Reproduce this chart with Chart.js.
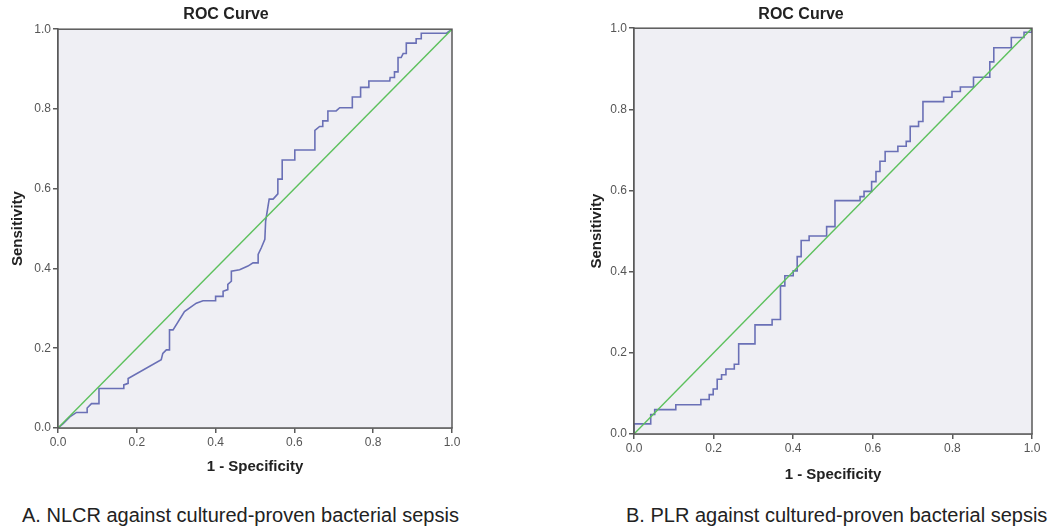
<!DOCTYPE html>
<html>
<head>
<meta charset="utf-8">
<script src="https://cdn.jsdelivr.net/npm/chart.js@4/dist/chart.umd.min.js"></script>
<style>
  html, body { margin: 0; padding: 0; background: #fff; }
  body { width: 1052px; height: 531px; position: relative; overflow: hidden; font-family: "Liberation Sans", Arial, sans-serif; }
  .panel { position: absolute; top: 0; height: 490px; }
  .caption { position: absolute; top: 504px; font-size: 20px; color: #222; white-space: nowrap; }
</style>
</head>
<body>
<div class="panel" style="left:0;width:470px"><canvas id="rocA"></canvas></div>
<div class="panel" style="left:570px;width:482px"><canvas id="rocB"></canvas></div>
<div class="caption" style="left:22px">A. NLCR against cultured-proven bacterial sepsis</div>
<div class="caption" style="left:626px">B. PLR against cultured-proven bacterial sepsis</div>
<script>
// NLCR curve
const nlcrFpr = [0, 0.013, 0.03, 0.047, 0.074, 0.074, 0.085, 0.104, 0.104, 0.167, 0.167, 0.178, 0.178, 0.262,
  0.266, 0.275, 0.283, 0.283, 0.292, 0.321, 0.351, 0.368, 0.4, 0.4, 0.419, 0.419, 0.431, 0.431, 0.44, 0.44,
  0.461, 0.482, 0.495, 0.508, 0.508, 0.516, 0.525, 0.527, 0.536, 0.546, 0.558, 0.558, 0.569, 0.569, 0.601,
  0.601, 0.652, 0.652, 0.664, 0.672, 0.672, 0.685, 0.685, 0.706, 0.715, 0.747, 0.747, 0.768, 0.768, 0.789,
  0.789, 0.842, 0.843, 0.854, 0.854, 0.863, 0.863, 0.871, 0.876, 0.884, 0.884, 0.909, 0.909, 0.922, 0.922,
  0.939, 0.986, 1];
const nlcrTpr = [0, 0.011, 0.028, 0.039, 0.039, 0.05, 0.061, 0.061, 0.099, 0.099, 0.108, 0.112, 0.124, 0.171,
  0.187, 0.196, 0.196, 0.246, 0.246, 0.292, 0.313, 0.319, 0.319, 0.33, 0.33, 0.343, 0.347, 0.36, 0.368, 0.393,
  0.397, 0.406, 0.414, 0.414, 0.435, 0.452, 0.473, 0.519, 0.574, 0.574, 0.587, 0.624, 0.624, 0.672, 0.672,
  0.697, 0.697, 0.746, 0.756, 0.756, 0.77, 0.77, 0.795, 0.795, 0.803, 0.803, 0.83, 0.83, 0.854, 0.854,
  0.87, 0.87, 0.879, 0.879, 0.893, 0.893, 0.929, 0.929, 0.939, 0.939, 0.965, 0.965, 0.976, 0.976, 0.99,
  0.99, 0.99, 1];

// PLR curve
const plrFpr = [0, 0, 0.042, 0.042, 0.052, 0.052, 0.105, 0.105, 0.168, 0.168, 0.189, 0.189, 0.199, 0.199,
  0.209, 0.209, 0.22, 0.22, 0.231, 0.231, 0.252, 0.252, 0.263, 0.263, 0.304, 0.304, 0.347, 0.347, 0.368,
  0.368, 0.379, 0.379, 0.4, 0.4, 0.41, 0.41, 0.42, 0.42, 0.44, 0.44, 0.484, 0.484, 0.505, 0.505, 0.568,
  0.568, 0.578, 0.578, 0.597, 0.597, 0.608, 0.608, 0.618, 0.618, 0.631, 0.631, 0.663, 0.663, 0.684, 0.684,
  0.694, 0.694, 0.715, 0.715, 0.726, 0.726, 0.778, 0.778, 0.799, 0.799, 0.82, 0.82, 0.853, 0.853, 0.894,
  0.894, 0.904, 0.904, 0.948, 0.948, 0.98, 0.98, 1, 1];
const plrTpr = [0, 0.025, 0.025, 0.048, 0.048, 0.06, 0.06, 0.072, 0.072, 0.085, 0.085, 0.097, 0.097, 0.111,
  0.111, 0.135, 0.135, 0.146, 0.146, 0.16, 0.16, 0.172, 0.172, 0.222, 0.222, 0.269, 0.269, 0.282, 0.282,
  0.365, 0.365, 0.39, 0.39, 0.402, 0.402, 0.437, 0.437, 0.477, 0.477, 0.488, 0.488, 0.511, 0.511, 0.575,
  0.575, 0.585, 0.585, 0.598, 0.598, 0.622, 0.622, 0.647, 0.647, 0.672, 0.672, 0.696, 0.696, 0.709, 0.709,
  0.721, 0.721, 0.758, 0.758, 0.77, 0.77, 0.819, 0.819, 0.83, 0.83, 0.844, 0.844, 0.855, 0.855, 0.879,
  0.879, 0.917, 0.917, 0.952, 0.952, 0.977, 0.977, 0.99, 0.99, 1];

// reference diagonal
const refX = [0, 1];
const refY = [0, 1];

const axisTicks = [0, 0.2, 0.4, 0.6, 0.8, 1.0];

const FONT = '"Liberation Sans", Arial, sans-serif';
const AXIS_COLOR = '#5a5a5a';

const toPoints = (xs, ys) => xs.map((x, i) => ({ x: x, y: ys[i] }));

// plot background + box frame
const plotFrame = {
    id: 'plotFrame',
    beforeDatasetsDraw(chart) {
        const a = chart.chartArea, ctx = chart.ctx;
        ctx.save();
        ctx.fillStyle = '#efeff4';
        ctx.fillRect(a.left, a.top, a.right - a.left, a.bottom - a.top);
        ctx.restore();
    },
    afterDraw(chart) {
        const a = chart.chartArea, ctx = chart.ctx;
        ctx.save();
        ctx.strokeStyle = AXIS_COLOR;
        ctx.lineWidth = 1.5;
        ctx.strokeRect(a.left, a.top, a.right - a.left, a.bottom - a.top);
        ctx.restore();
    }
};

function makeRoc(id, xs, ys, cfg) {
    const axis = (extra) => Object.assign({
        type: 'linear', min: 0, max: 1,
        afterBuildTicks: s => { s.ticks = axisTicks.map(v => ({ value: v })); },
        ticks: { callback: v => v.toFixed(1), color: '#555', font: { family: FONT, size: 12 }, padding: 2, maxRotation: 0 },
        grid: { drawOnChartArea: false, drawTicks: true, tickLength: 5, color: AXIS_COLOR, lineWidth: 1.5 },
        border: { display: true, color: AXIS_COLOR, width: 1.5 }
    }, extra);

    return new Chart(document.getElementById(id), {
        type: 'scatter',
        data: {
            datasets: [
                { data: toPoints(xs, ys), showLine: true, borderColor: '#6a70b6', borderWidth: 1.6,
                  pointRadius: 0, tension: 0, fill: false, order: 2 },
                { data: toPoints(refX, refY), showLine: true, borderColor: '#5cc05c', borderWidth: 1.4,
                  pointRadius: 0, fill: false, order: 1 }
            ]
        },
        options: {
            responsive: true, maintainAspectRatio: false, animation: false,
            layout: { padding: { right: cfg.padRight, top: 0, bottom: 0, left: 0 } },
            plugins: {
                legend: { display: false }, tooltip: { enabled: false },
                title: { display: true, text: 'ROC Curve', color: '#222',
                         font: { family: FONT, size: 16, weight: 'bold' }, padding: { top: 5, bottom: cfg.titleGap } }
            },
            scales: {
                x: axis({
                    position: 'bottom',
                    title: { display: true, text: '1 - Specificity', color: '#222',
                             font: { family: FONT, size: 15, weight: 'bold' }, padding: { bottom: cfg.xTitlePad } },
                    afterFit: s => { s.height = cfg.xHeight; }
                }),
                y: axis({
                    position: 'left',
                    title: { display: true, text: 'Sensitivity', color: '#222',
                             font: { family: FONT, size: 15, weight: 'bold' }, padding: { top: cfg.yTitlePad } },
                    afterFit: s => { s.width = cfg.yWidth; }
                })
            }
        },
        plugins: [plotFrame]
    });
}

makeRoc('rocA', nlcrFpr, nlcrTpr, { padRight: 18, titleGap: 5, xHeight: 62, xTitlePad: 14, yWidth: 58, yTitlePad: 9 });
makeRoc('rocB', plrFpr, plrTpr, { padRight: 20, titleGap: 4, xHeight: 56, xTitlePad: 6, yWidth: 64, yTitlePad: 18 });
</script>
</body>
</html>
